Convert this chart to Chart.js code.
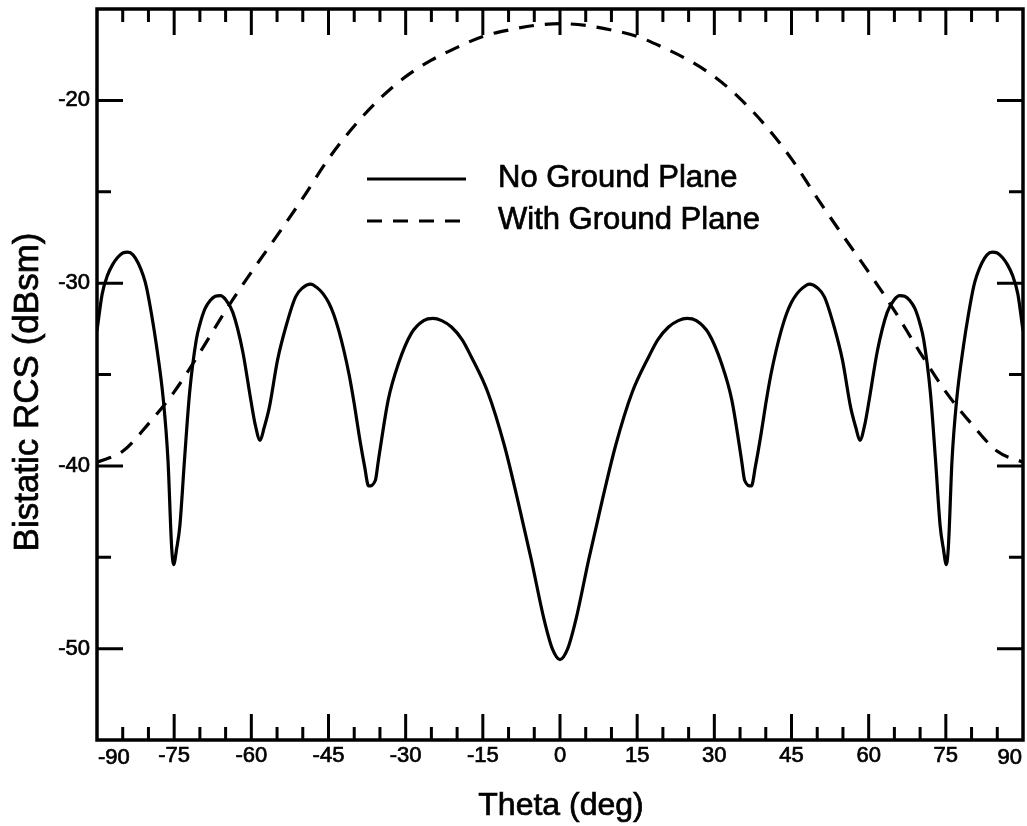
<!DOCTYPE html>
<html>
<head>
<meta charset="utf-8">
<script src="https://cdn.jsdelivr.net/npm/chart.js@4"></script>
<style>
  html, body { margin: 0; padding: 0; background: #ffffff; }
  #wrap { width: 1027px; height: 826px; }
</style>
</head>
<body>
<div id="wrap"><canvas id="c" width="1027" height="826"></canvas></div>
<script>
// ---- Data ----
const seriesNames = ["No Ground Plane", "With Ground Plane"];

const thetaNoGP = [
  -90, -89, -88, -87, -86, -85, -84, -83, -82, -81, -80.4, -79.4, -78.4, -77.1, -76.2, -75.5, -75.1, -74.5, -73.9, -73.0,
  -72.0, -70.7, -70, -69, -68, -67, -66, -65, -63.6, -61.7, -60.1, -59.2, -58.3, -57.5, -56.5, -54.9, -53.3, -51.4, -50, -48.5,
  -47, -46, -45, -44, -43, -42, -41, -40, -39, -38, -37.2, -35.9, -35.3, -33.4, -31.4, -28.9, -26.5, -24.7, -23, -21.1,
  -19, -17.3, -14.0, -10.8, -8.2, -5.6, -3.1, -1.5, 0,
  1.5, 3.1, 5.6, 8.2, 10.8, 14.0, 17.3, 19,
  21.1, 23, 24.7, 26.5, 28.9, 31.4, 33.4, 35.3, 35.9, 37.2, 38, 39, 40, 41, 42, 43, 44, 45, 46, 47,
  48.5, 50, 51.4, 53.3, 54.9, 56.5, 57.5, 58.3, 59.2, 60.1, 61.7, 63.6, 65, 66, 67, 68, 69, 70, 70.7, 72.0,
  73.0, 73.9, 74.5, 75.1, 75.5, 76.2, 77.1, 78.4, 79.4, 80.4, 81, 82, 83, 84, 85, 86, 87, 88, 89, 90
];
const rcsNoGP = [
  -32.6, -30.6, -29.6, -29.0, -28.6, -28.35, -28.3, -28.45, -28.9, -29.6, -30.2, -31.7, -33.5, -36.4, -39.7, -44.4, -45.4, -44.5, -43.3, -39.7,
  -36.0, -33.1, -32.25, -31.4, -30.95, -30.72, -30.68, -30.9, -31.6, -33.7, -36.4, -37.8, -38.6, -37.9, -36.8, -34.2, -32.4, -30.75, -30.25, -30.05,
  -30.3, -30.6, -31.05, -31.7, -32.6, -33.7, -35.0, -36.6, -38.4, -40.0, -41.1, -40.8, -39.7, -36.4, -34.4, -32.75, -32.05, -31.93, -32.05, -32.4,
  -33.1, -34.0, -36.0, -38.9, -41.9, -45.1, -48.4, -50.0, -50.6,
  -50.0, -48.4, -45.1, -41.9, -38.9, -36.0, -34.0, -33.1,
  -32.4, -32.05, -31.93, -32.05, -32.75, -34.4, -36.4, -39.7, -40.8, -41.1, -40.0, -38.4, -36.6, -35.0, -33.7, -32.6, -31.7, -31.05, -30.6, -30.3,
  -30.05, -30.25, -30.75, -32.4, -34.2, -36.8, -37.9, -38.6, -37.8, -36.4, -33.7, -31.6, -30.9, -30.68, -30.72, -30.95, -31.4, -32.25, -33.1, -36.0,
  -39.7, -43.3, -44.5, -45.4, -44.4, -39.7, -36.4, -33.5, -31.7, -30.2, -29.6, -28.9, -28.45, -28.3, -28.35, -28.6, -29.0, -29.6, -30.6, -32.6
];

const thetaWithGP = [
  -90, -85, -80, -75, -70, -65, -60, -55, -50, -45, -40, -35, -30, -25, -20, -15, -10, -5, 0,
  5, 10, 15, 20, 25, 30, 35, 40, 45, 50, 55, 60, 65, 70, 75, 80, 85, 90
];
const rcsWithGP = [
  -39.8, -39.2, -37.7, -35.95, -33.8, -31.5, -29.4, -27.4, -25.35, -23.2, -21.4, -19.9, -18.7, -17.8, -17.1, -16.5, -16.15, -15.9, -15.8,
  -15.9, -16.15, -16.5, -17.1, -17.8, -18.7, -19.9, -21.4, -23.2, -25.35, -27.4, -29.4, -31.5, -33.8, -35.95, -37.7, -39.2, -39.8
];

// Axis ticks and labels
const xRange = [-90, 90];
const yRange = [-55, -15];
const xLabelValues = [-90, -75, -60, -45, -30, -15, 0, 15, 30, 45, 60, 75, 90];
const xMajorTicks = [-75, -60, -45, -30, -15, 0, 15, 30, 45, 60, 75];
const xMinorTicks = [-85, -80, -70, -65, -55, -50, -40, -35, -25, -20, -10, -5, 5, 10, 20, 25, 35, 40, 50, 55, 65, 70, 80, 85];
const yLabelValues = [-50, -40, -30, -20];
const yMajorTicks = [-50, -40, -30, -20];
const yMinorTicks = [-45, -35, -25];
const xTitle = "Theta (deg)";
const yTitle = "Bistatic RCS (dBsm)";

const FONT = "'Liberation Sans', Arial, Helvetica, sans-serif";
const TEXT_STROKE = 0.7;

function pts(xs, ys) { return xs.map((x, i) => ({ x: x, y: ys[i] })); }

function heavyText(ctx, txt, x, y) {
  ctx.fillText(txt, x, y);
  ctx.lineWidth = TEXT_STROKE;
  ctx.setLineDash([]);
  ctx.strokeText(txt, x, y);
}

const decorPlugin = {
  id: 'decor',
  afterDatasetsDraw(chart) {
    const ctx = chart.ctx;
    const a = chart.chartArea;
    const xs = chart.scales.x, ys = chart.scales.y;
    ctx.save();
    ctx.strokeStyle = '#000';
    ctx.lineCap = 'butt';
    // tick marks, inward on all four sides
    ctx.lineWidth = 3;
    ctx.beginPath();
    const xt = (vals, len) => vals.forEach(v => {
      const px = xs.getPixelForValue(v);
      ctx.moveTo(px, a.bottom); ctx.lineTo(px, a.bottom - len);
      ctx.moveTo(px, a.top); ctx.lineTo(px, a.top + len);
    });
    const yt = (vals, len) => vals.forEach(v => {
      const py = ys.getPixelForValue(v);
      ctx.moveTo(a.left, py); ctx.lineTo(a.left + len, py);
      ctx.moveTo(a.right, py); ctx.lineTo(a.right - len, py);
    });
    xt(xMajorTicks, 26); xt(xMinorTicks, 13);
    yt(yMajorTicks, 26); yt(yMinorTicks, 14);
    ctx.stroke();
    // frame
    ctx.lineWidth = 3.5;
    ctx.strokeRect(a.left, a.top, a.right - a.left, a.bottom - a.top);

    // edge x labels (-90 / 90), kept inside the frame like the reference
    ctx.fillStyle = '#000';
    ctx.font = '22px ' + FONT;
    ctx.textBaseline = 'alphabetic';
    ctx.textAlign = 'left';
    heavyText(ctx, String(xLabelValues[0]), xs.getPixelForValue(xLabelValues[0]) + 1, 764);
    ctx.textAlign = 'right';
    heavyText(ctx, String(xLabelValues[xLabelValues.length - 1]), xs.getPixelForValue(xLabelValues[xLabelValues.length - 1]) - 1, 764);

    // axis titles
    ctx.font = '32px ' + FONT;
    ctx.textAlign = 'center';
    heavyText(ctx, xTitle, (a.left + a.right) / 2 + 1, 815);
    ctx.save();
    ctx.translate(37.5, 392);
    ctx.rotate(-Math.PI / 2);
    ctx.font = '35px ' + FONT;
    ctx.textAlign = 'center';
    heavyText(ctx, yTitle, 0, 0);
    ctx.restore();

    // legend
    const rows = [179, 221];
    chart.data.datasets.forEach((ds, i) => {
      ctx.beginPath();
      ctx.lineWidth = ds.borderWidth;
      ctx.setLineDash(ds.borderDash || []);
      ctx.moveTo(367, rows[i]); ctx.lineTo(466, rows[i]);
      ctx.stroke();
      ctx.setLineDash([]);
      ctx.font = '31px ' + FONT;
      ctx.textAlign = 'left';
      heavyText(ctx, ds.label, 498, rows[i] + 8);
    });
    ctx.restore();
  }
};

new Chart(document.getElementById('c'), {
  type: 'line',
  data: {
    datasets: [
      {
        label: seriesNames[0],
        data: pts(thetaNoGP, rcsNoGP),
        borderColor: '#000', borderWidth: 3.2, pointRadius: 0,
        cubicInterpolationMode: 'monotone', fill: false
      },
      {
        label: seriesNames[1],
        data: pts(thetaWithGP, rcsWithGP),
        borderColor: '#000', borderWidth: 3.2, borderDash: [15, 11], pointRadius: 0,
        cubicInterpolationMode: 'monotone', fill: false
      }
    ]
  },
  options: {
    responsive: false,
    animation: false,
    events: [],
    layout: { padding: { top: 9, right: 4, left: 0, bottom: 0 } },
    plugins: { legend: { display: false }, tooltip: { enabled: false }, title: { display: false } },
    scales: {
      x: {
        type: 'linear', min: xRange[0], max: xRange[1],
        afterFit: s => { s.height = 86; s.paddingLeft = 0; s.paddingRight = 0; },
        afterBuildTicks: s => { s.ticks = xLabelValues.map(v => ({ value: v })); },
        grid: { display: false, drawTicks: false },
        border: { display: false },
        ticks: {
          autoSkip: false, maxRotation: 0, padding: 3, color: '#000',
          textStrokeColor: '#000', textStrokeWidth: TEXT_STROKE,
          font: { family: FONT, size: 22 },
          callback: v => (v === xRange[0] || v === xRange[1]) ? '' : String(v)
        }
      },
      y: {
        type: 'linear', min: yRange[0], max: yRange[1],
        afterFit: s => { s.width = 97; s.paddingTop = 0; s.paddingBottom = 0; },
        afterBuildTicks: s => { s.ticks = yLabelValues.map(v => ({ value: v })); },
        grid: { display: false, drawTicks: false },
        border: { display: false },
        ticks: {
          autoSkip: false, padding: 7, color: '#000',
          textStrokeColor: '#000', textStrokeWidth: TEXT_STROKE,
          font: { family: FONT, size: 22 },
          callback: v => String(v)
        }
      }
    }
  },
  plugins: [decorPlugin]
});
</script>
</body>
</html>
